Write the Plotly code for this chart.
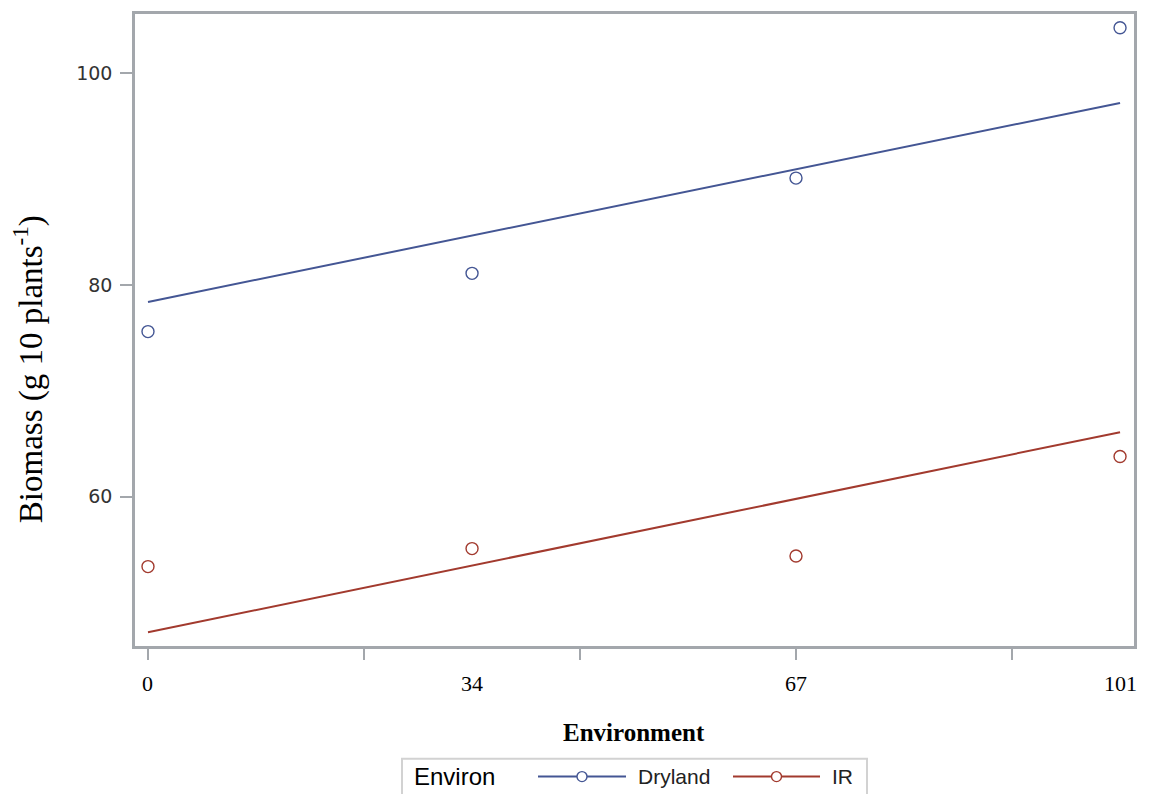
import plotly.graph_objects as go

# ---- data ----
environment = [0, 33.67, 67.33, 101]
dryland = [75.6, 81.1, 90.1, 104.3]
ir = [53.4, 55.1, 54.4, 63.8]
fit_x = [0, 101]
dryland_fit = [78.4, 97.2]
ir_fit = [47.2, 66.1]
x_tick_labels = ["0", "34", "67", "101"]
x_minor_ticks = [0, 22.44, 44.89, 67.33, 89.78]
y_ticks = [60, 80, 100]
series_names = ["Dryland", "IR"]

BLUE = "#445694"
RED = "#A23A2E"
AXIS = "#A3A7AC"
SANS = "DejaVu Sans"
SERIF = "Liberation Serif"

fig = go.Figure()
for name, vals, fit, col in [("Dryland", dryland, dryland_fit, BLUE), ("IR", ir, ir_fit, RED)]:
    fig.add_trace(go.Scatter(x=fit_x, y=fit, mode="lines", line=dict(color=col, width=2),
                             showlegend=False, hoverinfo="skip"))
    fig.add_trace(go.Scatter(x=environment, y=vals, mode="markers", name=name,
                             marker=dict(symbol="circle-open", size=12, color=col, line=dict(width=1.4)),
                             showlegend=False))

xr = [-1.35, 102.45]
fig.update_layout(
    width=1149, height=794,
    margin=dict(l=135, r=15, t=11, b=148),
    paper_bgcolor="white", plot_bgcolor="white",
    font=dict(family="Liberation Sans"),
    xaxis=dict(range=xr, tickvals=x_minor_ticks, showticklabels=False,
               ticks="outside", ticklen=11, tickwidth=2, tickcolor=AXIS,
               showline=True, linecolor=AXIS, linewidth=2.5, mirror=True,
               showgrid=False, zeroline=False),
    yaxis=dict(range=[45.9, 105.6], tickvals=y_ticks, ticks="outside", ticklen=12,
               tickwidth=2, tickcolor=AXIS, showline=True, linecolor=AXIS, linewidth=2.5,
               mirror=True, showgrid=False, zeroline=False, ticklabelstandoff=4),
    showlegend=False,
)
fig.update_yaxes(tickfont=dict(family=SANS, size=19, color="#333333"))

def px_x(p):
    return (p - 135) / 999.0

def px_y(p):
    return (646 - p) / 634.0

# x tick labels at the data positions
for xv, lab in zip(environment, x_tick_labels):
    fig.add_annotation(text=lab, xref="x", yref="paper", x=xv, y=px_y(684), showarrow=False,
                       xanchor="center", yanchor="middle",
                       font=dict(family=SERIF, size=22, color="black"))

# axis titles
fig.add_annotation(text="<b>Environment</b>", xref="paper", yref="paper", x=0.4995, y=-0.1372,
                   showarrow=False, font=dict(family=SERIF, size=25, color="black"),
                   xanchor="center", yanchor="middle")
fig.add_annotation(text="Biomass (g 10 plants<sup>-1</sup>)", xref="paper", yref="paper",
                   x=-0.1071, y=0.438, textangle=-90, showarrow=False,
                   font=dict(family=SERIF, size=33, color="black"),
                   xanchor="center", yanchor="middle")

# manual legend (SAS style)
ly = px_y(777)
fig.add_shape(type="rect", xref="paper", yref="paper", x0=px_x(402), x1=px_x(867),
              y0=px_y(759), y1=px_y(830), line=dict(color="#D2D2D2", width=2), fillcolor="white")
fig.add_annotation(text="Environ", xref="paper", yref="paper", x=px_x(412), y=ly, showarrow=False,
                   xanchor="left", yanchor="middle",
                   font=dict(family="Liberation Sans", size=24, color="black"))
for name, col, l0, l1, tx in [(series_names[0], BLUE, 538, 626, 636), (series_names[1], RED, 733, 820, 830)]:
    fig.add_shape(type="line", xref="paper", yref="paper", x0=px_x(l0), x1=px_x(l1), y0=ly, y1=ly,
                  line=dict(color=col, width=2))
    fig.add_shape(type="circle", xref="paper", yref="paper", xsizemode="pixel", ysizemode="pixel",
                  xanchor=px_x((l0 + l1) / 2), yanchor=ly, x0=-5, x1=5, y0=-5, y1=5,
                  line=dict(color=col, width=1.4), fillcolor="white")
    fig.add_annotation(text=name, xref="paper", yref="paper", x=px_x(tx), y=ly, showarrow=False,
                       xanchor="left", yanchor="middle",
                       font=dict(family="Liberation Sans", size=21, color="#222222"))

fig.write_html("out.html")
